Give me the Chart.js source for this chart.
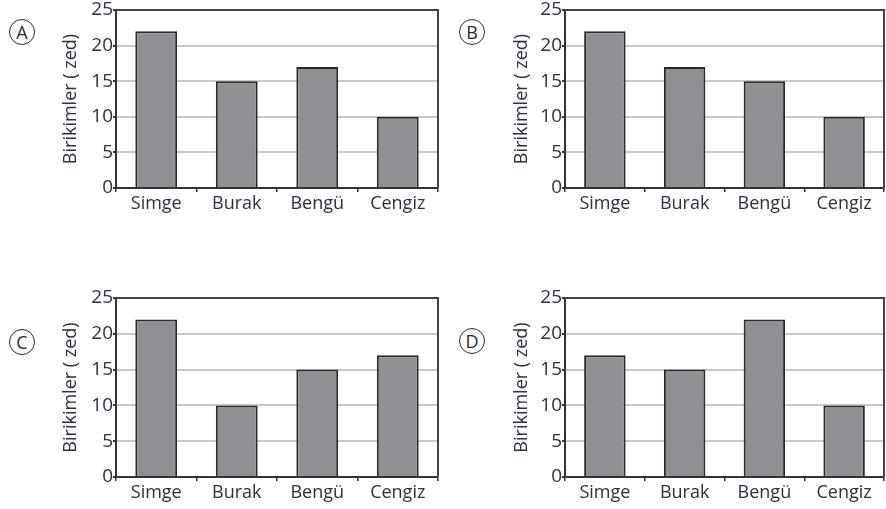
<!DOCTYPE html>
<html>
<head>
<meta charset="utf-8">
<script src="https://cdn.jsdelivr.net/npm/chart.js"></script>
<style>
  body { margin: 0; width: 886px; height: 509px; background: #fff; position: relative; overflow: hidden; font-family: 'Open Sans', sans-serif; }
  canvas { position: absolute; }
  .lbl { position: absolute; width: 24px; height: 24px; border: 1.8px solid #2a2a2a; border-radius: 50%;
         text-align: center; line-height: 24px; font-size: 18px; color: #2a2a2a; }
</style>
</head>
<body>
<div class="lbl" style="left:9px;top:19px">A</div>
<div class="lbl" style="left:459px;top:19px">B</div>
<div class="lbl" style="left:9px;top:329px">C</div>
<div class="lbl" style="left:459px;top:328px">D</div>
<script>
// data
const categories = ['Simge', 'Burak', 'Bengü', 'Cengiz'];
const valuesA = [22, 15, 17, 10];
const valuesB = [22, 17, 15, 10];
const valuesC = [22, 10, 15, 17];
const valuesD = [17, 15, 22, 10];
const yMin = 0, yMax = 25, yStep = 5;
const yTitle = 'Birikimler ( zed)';

const textColor = '#2e2e40';

// draws the top and right edges of the plot frame
const framePlugin = {
  id: 'frame',
  afterDraw(chart) {
    const a = chart.chartArea, c = chart.ctx;
    c.save();
    c.strokeStyle = '#444';
    c.lineWidth = 2;
    c.beginPath();
    c.moveTo(a.left, a.top);
    c.lineTo(a.right, a.top);
    c.lineTo(a.right, a.bottom);
    c.stroke();
    c.restore();
  }
};

const panels = [
  { values: valuesA, plot: [116, 438, 10, 188], titleX: 71 },
  { values: valuesB, plot: [565, 884, 10, 188], titleX: 522 },
  { values: valuesC, plot: [116, 438, 298, 477], titleX: 71 },
  { values: valuesD, plot: [565, 884, 298, 477], titleX: 522 }
];

function makeChart(p) {
  const cv = document.createElement('canvas');
  const left = p.titleX - 11, top = p.plot[2] - 12;
  const w = p.plot[1] + 3 - left, h = p.plot[3] + 32 - top;
  cv.width = w; cv.height = h;
  cv.style.left = left + 'px'; cv.style.top = top + 'px';
  cv.style.width = w + 'px'; cv.style.height = h + 'px';
  document.body.appendChild(cv);

  new Chart(cv, {
    type: 'bar',
    data: {
      labels: categories,
      datasets: [{
        data: p.values,
        backgroundColor: '#8f9094',
        borderColor: '#2a2a2a',
        borderWidth: 2,
        categoryPercentage: 1,
        barPercentage: 0.52
      }]
    },
    options: {
      responsive: false,
      animation: false,
      layout: { padding: { top: 12, right: 3, left: 0, bottom: 0 } },
      plugins: { legend: { display: false }, tooltip: { enabled: false } },
      scales: {
        x: {
          afterFit: s => { s.height = 32; },
          grid: { drawOnChartArea: false, drawTicks: true, tickLength: 4, tickColor: '#333', lineWidth: 1.5 },
          border: { color: '#333', width: 2 },
          ticks: { color: textColor, font: { family: 'Open Sans', size: 18 }, padding: 1, maxRotation: 0 }
        },
        y: {
          min: yMin, max: yMax,
          afterFit: s => { s.width = p.plot[0] - left; },
          grid: { color: '#c8c8c8', lineWidth: 2, tickLength: 3, tickColor: '#333' },
          border: { color: '#333', width: 2 },
          ticks: { stepSize: yStep, color: textColor, font: { family: 'Open Sans', size: 19 }, padding: 0 },
          title: { display: true, text: yTitle, color: textColor, font: { family: 'Open Sans', size: 18 }, padding: 0 }
        }
      }
    },
    plugins: [framePlugin]
  });
}

panels.forEach(makeChart);
</script>
</body>
</html>
